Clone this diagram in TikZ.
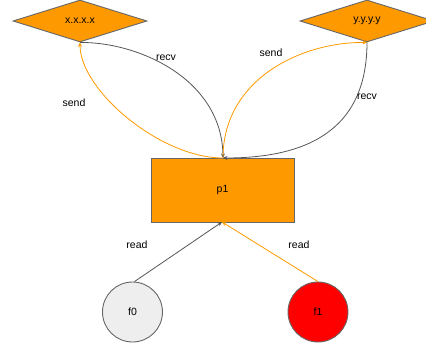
\documentclass[tikz,border=0pt]{standalone}
\usepackage{fontspec}
\setmainfont{Liberation Sans}
\usetikzlibrary{shapes.geometric,arrows.meta}
\definecolor{boxorange}{HTML}{FF9900}
\definecolor{edgegray}{HTML}{555555}
\definecolor{framegray}{HTML}{666666}
\definecolor{lightfill}{HTML}{EEEEEE}
\tikzset{
  every node/.style={font=\fontsize{10.5}{12}\selectfont},
  hostnode/.style={shape=diamond, draw=framegray, fill=boxorange, line width=0.9pt,
    minimum width=134pt, minimum height=42pt, aspect=3.2, inner sep=0pt},
  procnode/.style={draw=framegray, fill=boxorange, line width=0.9pt,
    minimum width=143pt, minimum height=64pt, inner sep=0pt},
  filenode/.style={circle, draw=framegray, line width=0.9pt, minimum size=60pt, inner sep=0pt},
  darkedge/.style={draw=edgegray, line width=0.8pt, -{Stealth[length=4.5pt,width=4pt]}},
  orangeedge/.style={draw=boxorange, line width=0.8pt, -{Stealth[length=4.5pt,width=4pt]}},
  edgelabel/.style={inner sep=1pt}
}
\begin{document}
\begin{tikzpicture}[x=1pt,y=-1pt]
  \useasboundingbox (0,0) rectangle (426,345);
  % nodes
  \node[hostnode] (hx) at (80,21) {x.x.x.x};
  \node[hostnode] (hy) at (367,21) {y.y.y.y};
  \node[procnode] (p1) at (222.5,190) {p1};
  \node[filenode, fill=lightfill] (f0) at (132.5,312) {f0};
  \node[filenode, fill=red] (f1) at (318,312) {f1};
  % anchor points on p1
  \coordinate (p1top) at (223,158);
  \coordinate (p1bot) at (222,222);
  % reads
  \draw[darkedge] (f0.north) ++(2,0) -- (p1bot);
  \draw[orangeedge] (f1.north) -- (p1bot);
  \node[edgelabel] (r0) at (137,245) {read};
  \node[edgelabel] (r1) at (299,245) {read};
  % host x.x.x.x
  \draw[darkedge] (hx.south) .. controls (140,42) and (222,80) .. (p1top);
  \draw[orangeedge] (p1top) .. controls (160,158) and (80,90) .. (hx.south);
  \node[edgelabel] (lxr) at (166,58) {recv};
  \node[edgelabel] (lxs) at (74,103) {send};
  % host y.y.y.y
  \draw[orangeedge] (p1top) .. controls (223,80) and (300,42) .. (hy.south);
  \draw[darkedge] (hy.south) .. controls (367,135) and (300,158) .. (p1top);
  \node[edgelabel] (lys) at (271,53) {send};
  \node[edgelabel] (lyr) at (367,97) {recv};
\end{tikzpicture}
\end{document}
